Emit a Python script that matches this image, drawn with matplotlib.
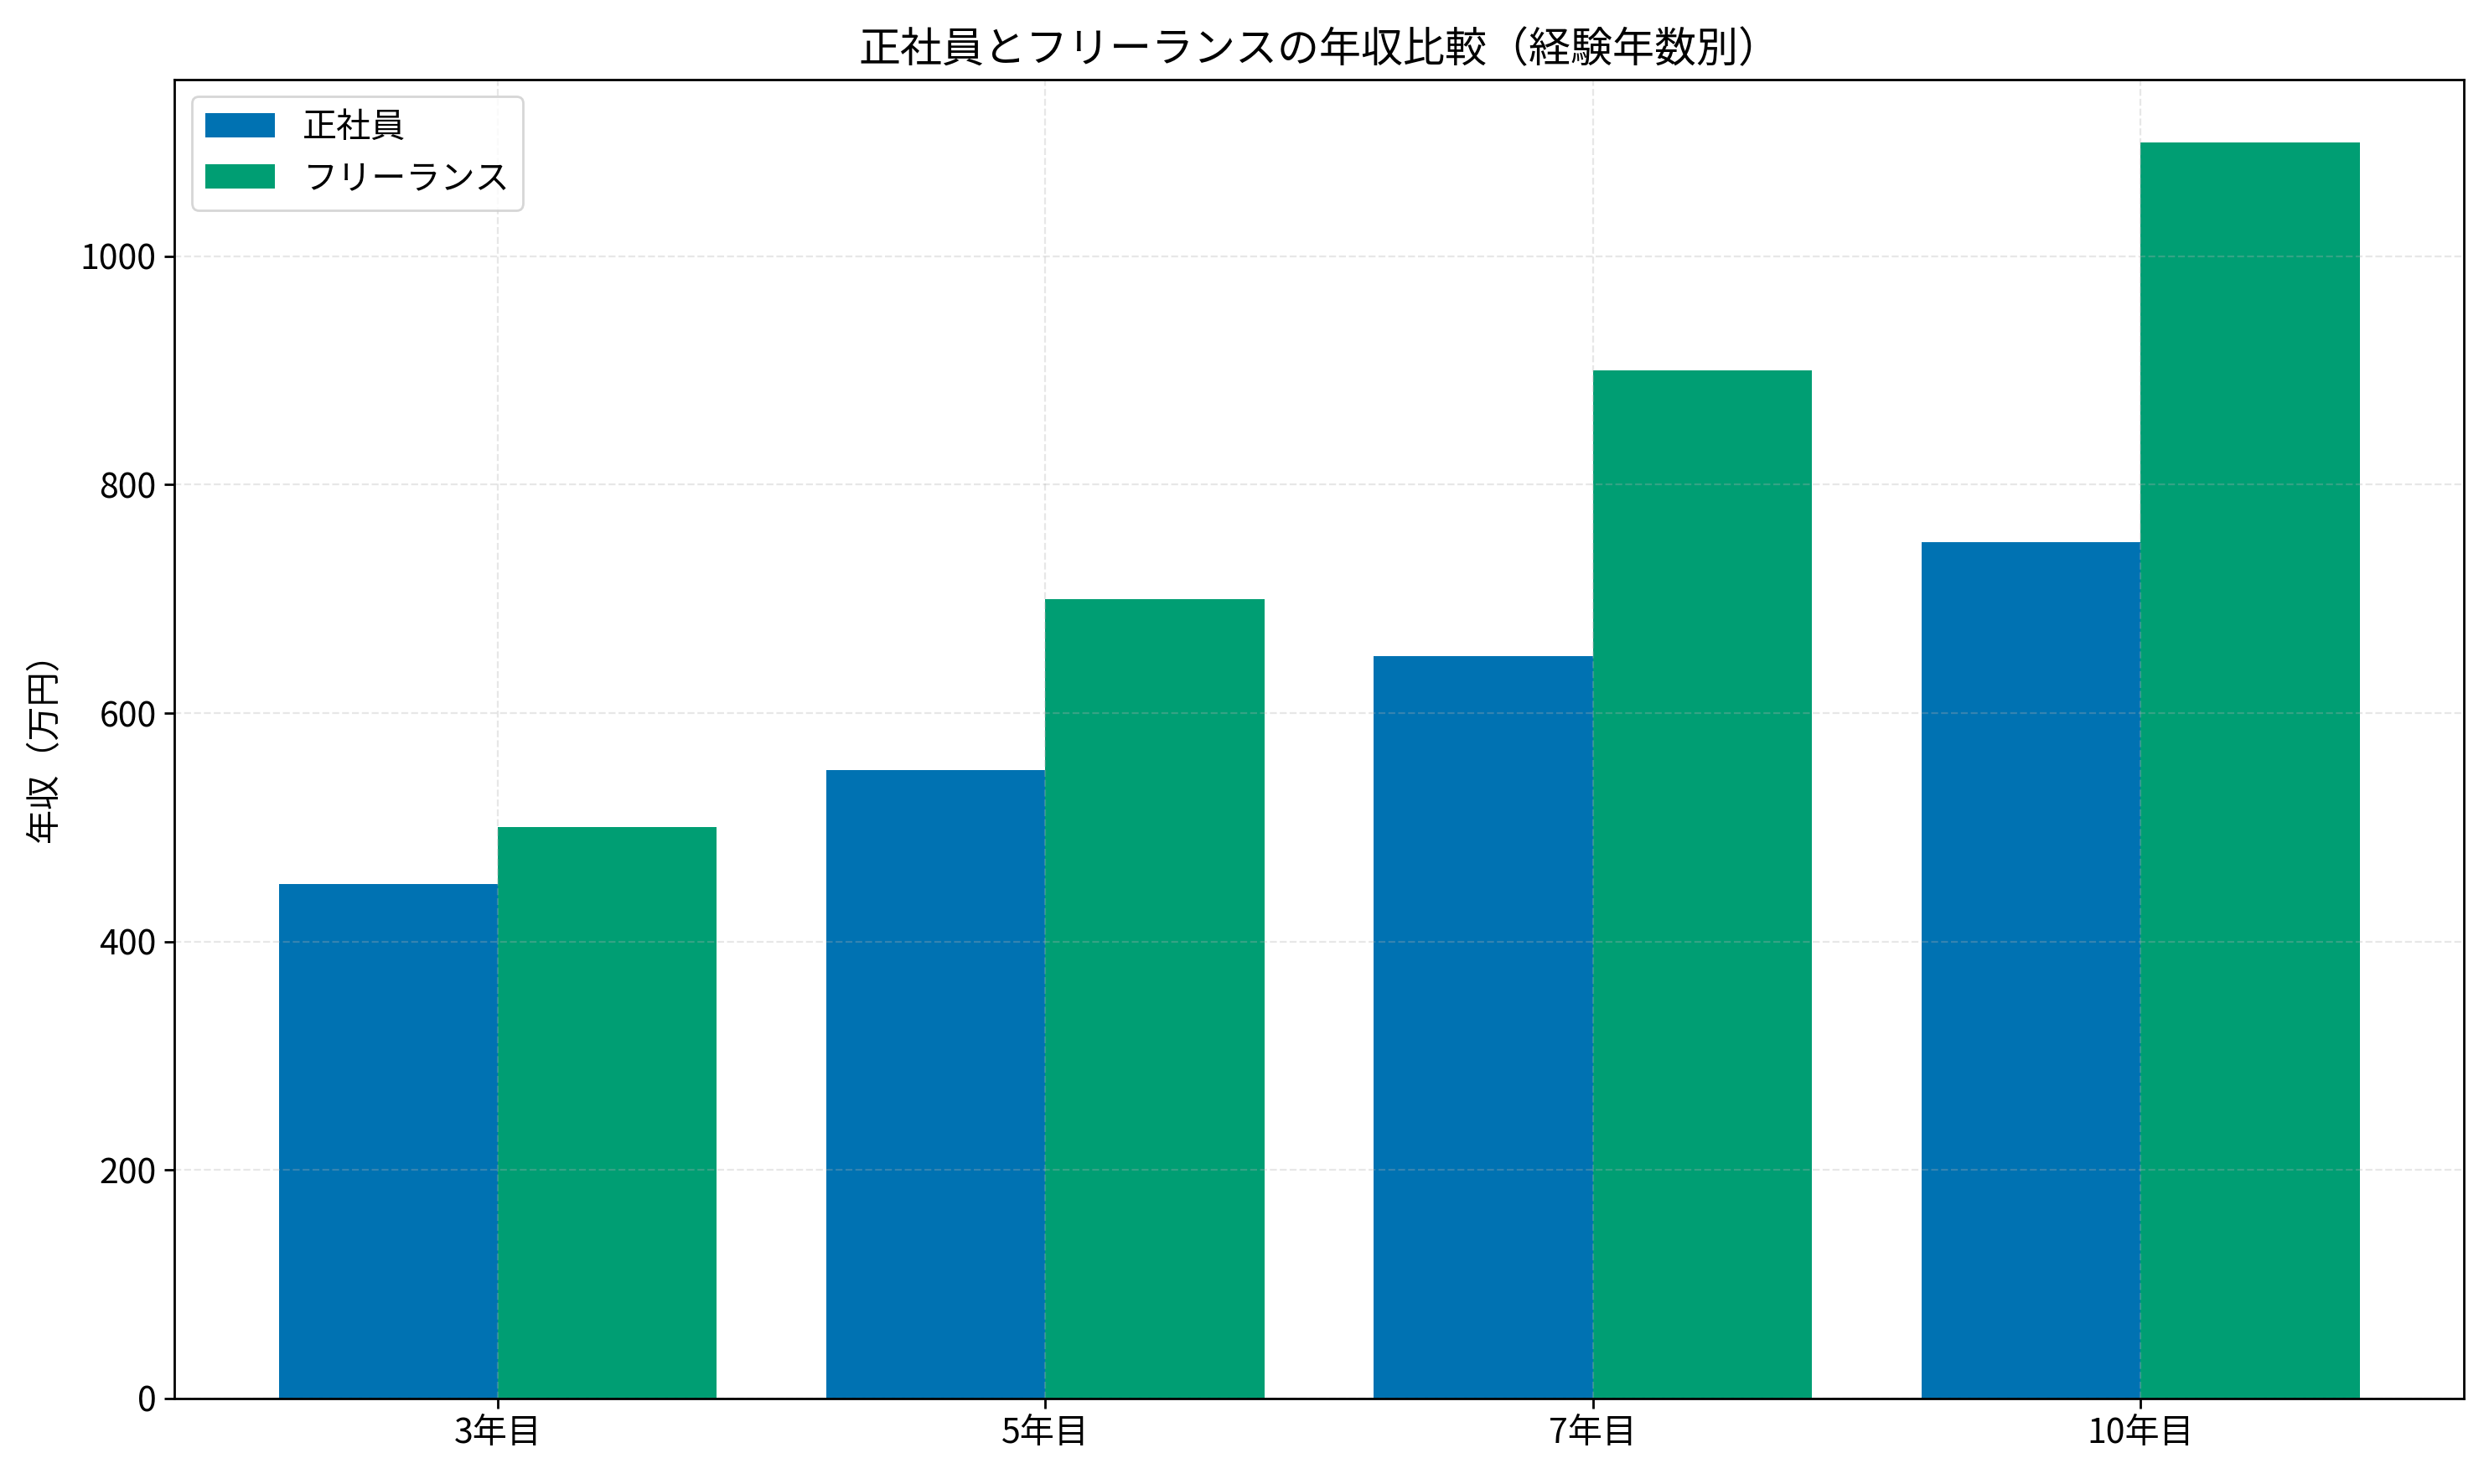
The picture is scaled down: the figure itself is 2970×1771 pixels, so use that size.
import matplotlib
matplotlib.use("Agg")
import matplotlib.pyplot as plt
import numpy as np

plt.rcParams['font.family'] = ['Noto Sans CJK JP', 'DejaVu Sans']

categories = ["3年目", "5年目", "7年目", "10年目"]
seishain = [450, 550, 650, 750]
freelance = [500, 700, 900, 1100]
series_names = ["正社員", "フリーランス"]
colors = ["#0072B2", "#009E73"]

fig, ax = plt.subplots(figsize=(14.85, 8.855), dpi=200)
x = np.arange(len(categories))
w = 0.4
ax.bar(x - w / 2, seishain, w, label=series_names[0], color=colors[0])
ax.bar(x + w / 2, freelance, w, label=series_names[1], color=colors[1])
ax.set_xticks(x)
ax.set_xticklabels(categories, fontsize=14.8)
ax.tick_params(axis='y', labelsize=14.8)
ax.tick_params(length=4.3, width=1.0)
for s in ax.spines.values():
    s.set_linewidth(1.0)
ax.set_ylabel("年収（万円）", fontsize=14.8, labelpad=8)
ax.set_title("正社員とフリーランスの年収比較（経験年数別）", fontsize=18.0, pad=7.5)
ax.grid(True, linestyle='--', alpha=0.3)
ax.legend(loc='upper left', fontsize=14.8)
fig.subplots_adjust(left=0.0702, right=0.9898, top=0.9466, bottom=0.0577)
fig.savefig("out.png", dpi=200)
